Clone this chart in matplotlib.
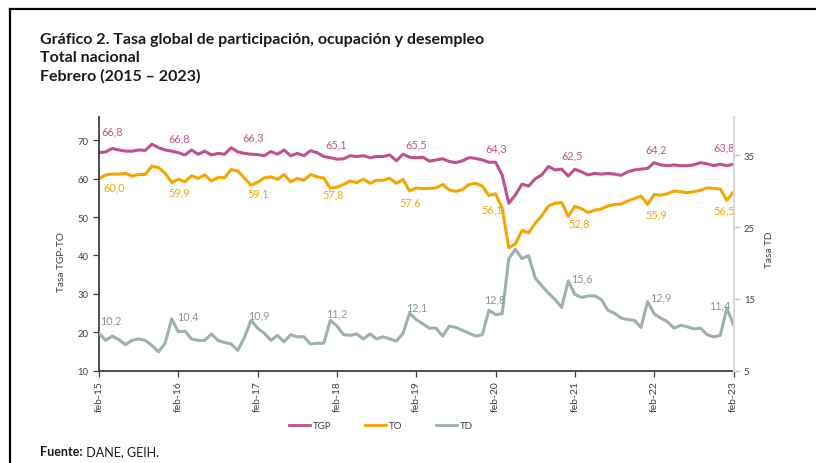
import matplotlib.pyplot as plt
from matplotlib.lines import Line2D

plt.rcParams['font.family'] = ['Lato', 'DejaVu Sans']

# etiquetas del eje x (un tick por cada febrero)
anios = ["feb-15", "feb-16", "feb-17", "feb-18", "feb-19",
         "feb-20", "feb-21", "feb-22", "feb-23"]

# series mensuales feb-2015 .. feb-2023
tgp = [66.8, 67.0, 67.9, 67.5, 67.2, 67.2, 67.5, 67.4, 69.0, 68.1, 67.5, 67.2,
       66.8, 66.2, 67.5, 66.4, 67.2, 66.2, 66.6, 66.4, 68.1, 67.0, 66.6, 66.4,
       66.3, 66.0, 67.1, 66.4, 67.5, 66.0, 66.6, 66.0, 67.3, 66.8, 65.8, 65.5,
       65.1, 65.2, 66.0, 65.8, 66.0, 65.5, 65.8, 65.8, 66.2, 64.7, 66.4, 65.6,
       65.5, 65.6, 64.6, 64.9, 65.2, 64.5, 64.2, 64.7, 65.5, 65.3, 64.9, 64.3,
       64.3, 61.0, 53.6, 55.8, 58.6, 58.1, 60.0, 61.0, 63.2, 62.3, 62.5, 60.7,
       62.5, 61.8, 61.0, 61.4, 61.2, 61.4, 61.2, 60.9, 61.8, 62.3, 62.5, 62.7,
       64.2, 63.6, 63.4, 63.6, 63.4, 63.4, 63.6, 64.2, 63.9, 63.4, 63.8, 63.4,
       63.8]

to = [60.0, 61.0, 61.2, 61.2, 61.4, 60.7, 61.1, 61.1, 63.3, 62.9, 61.5, 59.0,
      59.9, 59.2, 60.8, 60.1, 61.0, 59.4, 60.3, 60.3, 62.4, 62.0, 60.2, 58.3,
      59.1, 60.2, 60.5, 59.8, 61.1, 59.2, 60.1, 59.6, 61.1, 60.5, 60.2, 57.5,
      57.8, 58.5, 59.4, 59.0, 59.9, 58.8, 59.6, 59.6, 60.1, 58.8, 59.8, 56.8,
      57.6, 57.4, 57.5, 57.6, 58.5, 57.1, 56.7, 57.2, 58.5, 58.8, 58.1, 55.6,
      56.1, 52.3, 42.0, 43.0, 46.5, 45.9, 48.4, 50.4, 52.9, 53.6, 53.8, 50.2,
      52.8, 52.2, 51.2, 51.8, 52.1, 52.9, 53.3, 53.4, 54.2, 54.8, 55.5, 53.3,
      55.9, 55.7, 56.1, 56.8, 56.6, 56.4, 56.6, 57.0, 57.6, 57.5, 57.3, 54.4,
      56.5]

td = [10.2, 9.2, 9.8, 9.3, 8.6, 9.2, 9.4, 9.2, 8.5, 7.6, 8.8, 12.2,
      10.4, 10.5, 9.4, 9.2, 9.2, 10.1, 9.2, 8.9, 8.7, 7.8, 9.6, 12.0,
      10.9, 10.2, 9.2, 9.9, 9.0, 10.0, 9.7, 9.7, 8.7, 8.8, 8.8, 12.0,
      11.2, 10.0, 9.9, 10.1, 9.4, 10.1, 9.4, 9.7, 9.4, 9.1, 10.2, 13.0,
      12.1, 11.5, 10.9, 10.9, 9.8, 11.2, 11.0, 10.6, 10.2, 9.8, 10.0, 13.4,
      12.8, 12.9, 20.6, 21.9, 20.6, 21.0, 17.9, 16.8, 15.8, 14.9, 13.8, 17.5,
      15.6, 15.2, 15.4, 15.4, 14.9, 13.4, 13.0, 12.3, 12.1, 12.0, 11.0, 14.6,
      12.9, 12.3, 11.8, 10.9, 11.3, 11.1, 10.8, 10.9, 10.0, 9.7, 9.9, 13.7,
      11.4]

C_TGP = "#c2508b"
C_TO = "#f5a500"
C_TD = "#9db1ad"
C_TD_TXT = "#8a9897"
GRIS = "#404040"
NEGRO = "#1a1a1a"


def etiquetas(axis, serie, color, offsets):
    """Pone el valor de cada febrero junto al punto (coma decimal)."""
    for k, i in enumerate(range(0, len(serie), 12)):
        dx, dy = offsets[k]
        axis.annotate(f"{serie[i]:.1f}".replace(".", ","), (i, serie[i]),
                      xytext=(dx, dy), textcoords="offset pixels",
                      ha="center", va="center", color=color, fontsize=7.8)


fig = plt.figure(figsize=(8.16, 4.64), dpi=100)
ax = fig.add_axes([99 / 816, 1 - 371.5 / 464, 634.5 / 816, 253.5 / 464])
ax2 = ax.twinx()

meses = range(len(tgp))
ax.plot(meses, tgp, color=C_TGP, lw=2.2, solid_joinstyle="round")
ax.plot(meses, to, color=C_TO, lw=2.2, solid_joinstyle="round")
ax2.plot(meses, td, color=C_TD, lw=2.2, solid_joinstyle="round")

ax.set_xlim(0, len(tgp) - 1)
ax.set_ylim(10, 76.1)
ax2.set_ylim(5, 40.35)
ax.set_yticks(range(10, 71, 10))
ax2.set_yticks([5, 15, 25, 35])
ax.set_xticks(range(0, len(tgp), 12), anios, rotation=90)

for s in ["top", "right"]:
    ax.spines[s].set_visible(False)
for s in ["top", "left", "bottom"]:
    ax2.spines[s].set_visible(False)
ax.spines["left"].set_color(GRIS)
ax.spines["bottom"].set_color(GRIS)
ax.spines["left"].set_linewidth(1.3)
ax.spines["bottom"].set_linewidth(1.3)
ax2.spines["right"].set_color("#d9d9d9")
ax2.spines["right"].set_linewidth(1.5)

ax.tick_params(axis="both", labelsize=6.8, colors=GRIS, length=4, width=0.9)
ax.tick_params(axis="x", labelsize=7.5, pad=3)
ax2.tick_params(axis="y", labelsize=6.8, colors="#bfbfbf", labelcolor=GRIS,
                length=4, width=0.9)

etiquetas(ax, tgp, C_TGP, [(13, 22), (1, 15), (-4, 18), (-1, 15), (0, 14),
                           (1, 14), (-3, 14), (2, 14), (-9, 17)])
etiquetas(ax, to, C_TO, [(15, -8), (1, -13), (1, -11), (-4, -7), (-6, -14),
                         (-3, -15), (4, -17), (2, -19), (-9, -18)])
etiquetas(ax2, td, C_TD_TXT, [(12, 13), (10, 16), (1, 13), (0, 13), (1, 13),
                              (-1, 16), (7, 17), (7, 17), (-14, 20)])

fig.text(62 / 816, 1 - 262 / 464, "Tasa TGP-TO", rotation=90, ha="center",
         va="center", fontsize=7.2, color=GRIS)
fig.text(769 / 816, 1 - 250 / 464, "Tasa TD", rotation=90, ha="center",
         va="center", fontsize=7.2, color=GRIS)

# titulo
titulo = ["Gráfico 2. Tasa global de participación, ocupación y desempleo",
          "Total nacional", "Febrero (2015 – 2023)"]
for k, linea in enumerate(titulo):
    fig.text(40 / 816, 1 - (40 + 18 * k) / 464, linea, fontsize=11.5,
             fontweight="bold", va="center", color=NEGRO)

# leyenda
handles = [Line2D([], [], color=c, lw=2) for c in (C_TGP, C_TO, C_TD)]
fig.legend(handles, ["TGP", "TO", "TD"], loc="center",
           bbox_to_anchor=(381 / 816, 1 - 427 / 464), ncol=3, frameon=False,
           fontsize=7, labelcolor=GRIS, handlelength=2.2, handletextpad=0.3,
           columnspacing=3.4)

# fuente
t1 = fig.text(40 / 816, 1 - 452 / 464, "Fuente:", fontsize=9,
              fontweight="bold", va="center", color=NEGRO)
ax.annotate(" DANE, GEIH.", xy=(1, 0.5), xycoords=t1, va="center",
            fontsize=9, color=NEGRO, annotation_clip=False)

# marco del recuadro
fig.add_artist(Line2D([10 / 816, 10 / 816], [0, 1 - 10 / 464], color="black",
                      lw=1.6, transform=fig.transFigure))
fig.add_artist(Line2D([10 / 816, 1], [1 - 10 / 464, 1 - 10 / 464],
                      color="black", lw=1.6, transform=fig.transFigure))

fig.savefig("out.png", dpi=100)
